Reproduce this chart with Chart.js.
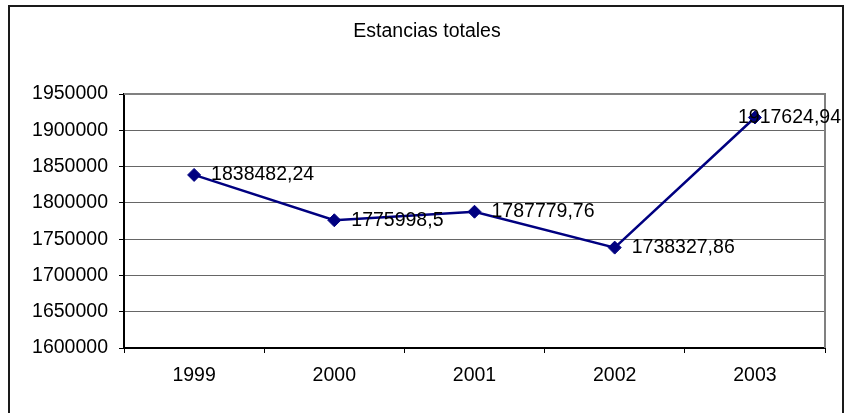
<!DOCTYPE html>
<html>
<head>
<meta charset="utf-8">
<title>Estancias totales</title>
<script src="https://cdn.jsdelivr.net/npm/chart.js@4/dist/chart.umd.min.js"></script>
<style>
  html, body { margin: 0; padding: 0; background: #fff; }
  canvas { display: block; }
</style>
</head>
<body>
<canvas id="chart" width="845" height="413"></canvas>
<script>
const years = ['1999', '2000', '2001', '2002', '2003'];
const estancias = [1838482.24, 1775998.5, 1787779.76, 1738327.86, 1917624.94];
const yTicks = [1600000, 1650000, 1700000, 1750000, 1800000, 1850000, 1900000, 1950000];
const chartTitle = 'Estancias totales';

const FONT = "'Liberation Sans', Arial, sans-serif";
const NAVY = '#000080';

// spanish style decimals: 1775998.5 -> "1775998,5"
const fmt = v => String(v).replace('.', ',');

// outer frame, title, grey plot border (top/right)
const framePlugin = {
    id: 'frame',
    beforeDatasetsDraw(chart) {
        const { ctx, chartArea: a } = chart;
        ctx.save();
        ctx.strokeStyle = '#808080';
        ctx.lineWidth = 2;
        ctx.beginPath();
        ctx.moveTo(a.left, a.top);
        ctx.lineTo(a.right, a.top);
        ctx.lineTo(a.right, a.bottom);
        ctx.stroke();
        ctx.restore();
    },
    afterDraw(chart) {
        const ctx = chart.ctx;
        ctx.save();
        ctx.strokeStyle = '#1a1a1a';
        ctx.lineWidth = 2;
        ctx.strokeRect(9, 6, 834, 420);
        ctx.font = '19.5px ' + FONT;
        ctx.fillStyle = '#000';
        ctx.textAlign = 'center';
        ctx.textBaseline = 'middle';
        ctx.fillText(chartTitle, 427, 32);
        ctx.restore();
    }
};

// value labels to the right of each point, pulled back inside when too wide
const valueLabels = {
    id: 'valueLabels',
    afterDatasetsDraw(chart) {
        const { ctx, width } = chart;
        const meta = chart.getDatasetMeta(0);
        const data = chart.data.datasets[0].data;
        ctx.save();
        ctx.font = '19.5px ' + FONT;
        ctx.fillStyle = '#000';
        ctx.textAlign = 'left';
        ctx.textBaseline = 'middle';
        meta.data.forEach((pt, i) => {
            const txt = fmt(data[i]);
            const w = ctx.measureText(txt).width;
            let x = pt.x + 17;
            if (x + w > width - 4) x = width - 4 - w;
            ctx.fillText(txt, x, pt.y);
        });
        ctx.restore();
    }
};

new Chart(document.getElementById('chart'), {
    type: 'line',
    data: {
        labels: years,
        datasets: [{
            label: chartTitle,
            data: estancias,
            borderColor: NAVY,
            borderWidth: 2.5,
            backgroundColor: NAVY,
            pointStyle: 'rectRot',
            pointRadius: 6.5,
            pointBorderWidth: 1,
            pointBorderColor: NAVY,
            pointBackgroundColor: NAVY,
            tension: 0
        }]
    },
    options: {
        responsive: false,
        animation: false,
        layout: { padding: { left: 0, right: 20, top: 94, bottom: 0 } },
        scales: {
            x: {
                offset: true,
                grid: {
                    offset: true,
                    drawOnChartArea: false,
                    drawTicks: true,
                    tickLength: 5,
                    tickColor: '#000',
                    tickWidth: 1
                },
                border: { color: '#000', width: 2 },
                ticks: {
                    color: '#000',
                    padding: 11,
                    maxRotation: 0,
                    font: { family: FONT, size: 19.5 }
                },
                afterFit(scale) { scale.height = 65; }
            },
            y: {
                min: yTicks[0],
                max: yTicks[yTicks.length - 1],
                afterBuildTicks(scale) { scale.ticks = yTicks.map(v => ({ value: v })); },
                grid: {
                    color: ctx => ctx.tick && ctx.tick.value === yTicks[yTicks.length - 1] ? '#808080' : '#666',
                    lineWidth: 1,
                    tickLength: 5,
                    tickColor: '#000'
                },
                border: { color: '#000', width: 2 },
                ticks: {
                    color: '#000',
                    padding: 11,
                    font: { family: FONT, size: 19.5 },
                    callback: v => String(v)
                },
                afterFit(scale) { scale.width = 124; }
            }
        },
        plugins: {
            legend: { display: false },
            tooltip: { enabled: false },
            title: { display: false }
        }
    },
    plugins: [framePlugin, valueLabels]
});
</script>
</body>
</html>
